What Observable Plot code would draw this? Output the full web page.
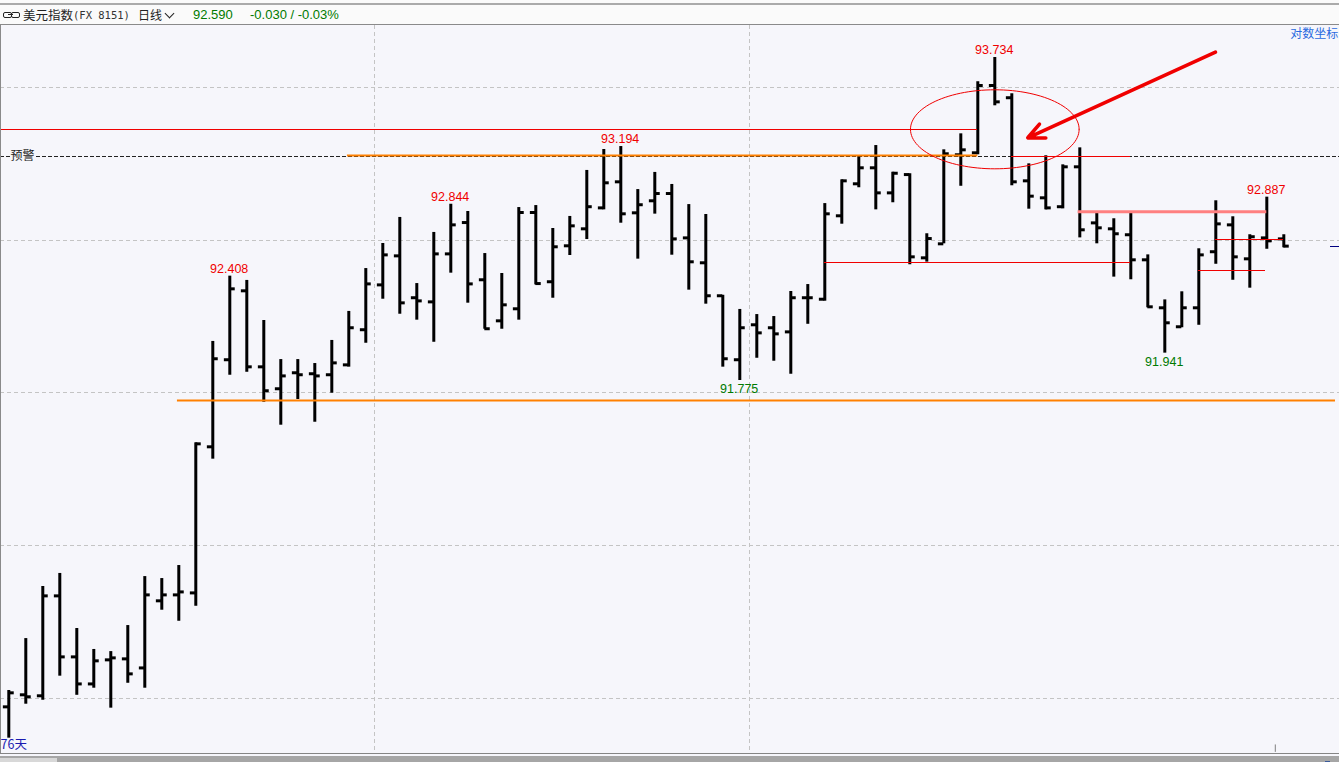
<!DOCTYPE html>
<html><head><meta charset="utf-8">
<script src="https://cdn.jsdelivr.net/npm/d3@7"></script>
<script src="https://cdn.jsdelivr.net/npm/@observablehq/plot@0.6"></script>
<style>
html,body{margin:0;padding:0;background:#f6f6fb;overflow:hidden}
body{width:1339px;height:762px;position:relative;font-family:"Liberation Sans",Arial,sans-serif}
#head{position:absolute;left:0;top:0;width:1339px;height:24px;background:#fafafa;border-bottom:1px solid #8a8a8a;box-sizing:content-box}
#head:before{content:"";position:absolute;left:0;top:3px;width:1339px;height:2px;background:#aaa}
#head span{position:absolute;top:7px;line-height:16px;white-space:nowrap;font-size:13px}
.cjk{font-family:"Noto Sans CJK SC",sans-serif;color:#222}
.mono{font-family:"DejaVu Sans Mono",monospace;font-size:10.5px!important;color:#333}
.g{color:#007a00}
#plot{position:absolute;left:0;top:25px;width:1339px;height:729px}
#plot svg{display:block;background:transparent}
#lborder{position:absolute;left:0;top:25px;width:1px;height:729px;background:#8a8a8a}
#bborder{position:absolute;left:0;top:753px;width:1339px;height:1px;background:#858585}
#sb{position:absolute;left:0;top:756px;width:1339px;height:6px;background:#a6a6a6}
#sb i{position:absolute;left:0;top:2px;width:57px;height:4px;background:#d8d8d8}
#sb b{position:absolute;left:1325px;top:5px;width:5px;height:1px;background:#3a5a9a}
</style></head><body>
<div id="head">
<span style="left:3px;top:12px;width:7px;height:4px;border:1px solid #222;border-radius:2px;box-sizing:content-box"></span>
<span style="left:11px;top:12px;width:7px;height:4px;border:1px solid #222;border-radius:2px;box-sizing:content-box"></span>
<span style="left:8px;top:14px;width:5px;height:1px;background:#222"></span>
<span class="cjk" style="left:23px;font-size:12.5px">美元指数</span>
<span class="mono" style="left:73px">(FX 8151)</span>
<span class="cjk" style="left:138px;font-size:12px">日线</span>
<span style="left:166px;top:10px;width:6px;height:6px;border-right:1.6px solid #222;border-bottom:1.6px solid #222;transform:rotate(45deg)"></span>
<span class="g" style="left:193px">92.590</span>
<span class="g" style="left:250px">-0.030 / -0.03%</span>
</div>
<div id="plot"></div>
<div id="lborder"></div><div id="bborder"></div>
<div id="sb"><i></i><b></b></div>
<script>
const open_ = [89.796,89.869,89.863,90.469,90.099,89.935,90.081,90.087,90.032,90.439,90.475,90.487,91.373,91.901,92.319,91.858,91.725,91.822,91.816,91.810,91.870,92.083,92.355,92.531,92.277,92.252,92.543,92.733,92.386,92.137,92.210,92.794,92.374,92.592,92.695,92.822,92.980,92.792,92.865,92.909,92.640,92.489,92.289,91.901,92.113,92.095,92.070,92.277,92.268,92.774,92.968,93.065,92.913,93.024,92.519,92.604,93.144,93.156,93.564,93.490,92.986,92.883,92.829,93.071,92.731,92.695,92.659,92.507,92.216,92.101,92.216,92.556,92.719,92.513,92.640,92.634];
const high = [89.895,90.210,90.526,90.605,90.271,90.144,90.131,90.289,90.586,90.574,90.653,91.397,92.012,92.408,92.382,92.139,91.902,91.902,91.878,92.018,92.194,92.454,92.606,92.764,92.363,92.673,92.844,92.800,92.545,92.424,92.824,92.836,92.697,92.770,93.049,93.176,93.194,92.933,93.037,92.964,92.842,92.782,92.292,92.206,92.175,92.163,92.315,92.357,92.848,92.992,93.134,93.200,93.038,93.029,92.665,93.174,93.271,93.587,93.734,93.514,93.089,93.138,93.083,93.186,92.788,92.756,92.788,92.537,92.264,92.313,92.574,92.865,92.768,92.659,92.887,92.659];
const low = [89.606,89.812,89.836,89.982,89.866,89.909,89.788,89.939,89.909,90.382,90.315,90.406,91.298,91.807,91.825,91.643,91.504,91.660,91.522,91.698,91.856,92.001,92.268,92.177,92.141,92.007,92.426,92.244,92.086,92.086,92.141,92.355,92.274,92.533,92.630,92.810,92.729,92.511,92.784,92.535,92.323,92.238,91.856,91.775,91.910,91.892,91.813,92.116,92.256,92.723,92.944,92.810,92.853,92.477,92.493,92.604,92.953,93.144,93.441,92.956,92.814,92.810,92.816,92.640,92.604,92.402,92.386,92.216,91.941,92.095,92.110,92.480,92.383,92.335,92.571,92.580];
const close_ = [89.881,89.857,90.469,90.099,89.935,90.075,90.093,89.996,90.475,90.475,90.493,91.391,91.907,92.331,91.858,91.713,91.803,91.810,91.803,91.882,92.095,92.361,92.537,92.246,92.258,92.543,92.719,92.361,92.089,92.234,92.794,92.363,92.586,92.713,92.829,92.974,92.786,92.841,92.909,92.634,92.495,92.289,91.907,92.095,92.064,92.058,92.277,92.277,92.786,92.986,93.065,92.913,93.032,92.525,92.636,93.150,93.174,93.564,93.465,92.980,92.893,92.822,93.071,92.689,92.701,92.665,92.507,92.222,92.125,92.216,92.537,92.725,92.525,92.647,92.622,92.590];

const gridPrices = [93.550,92.624,91.700,90.772,89.844];
const gridBars = [21.53,43.55];

const peakBars = [13,26,36,58,74];
const peakLabels = ["92.408","92.844","93.194","93.734","92.887"];
const peakPrices = [92.408,92.844,93.194,93.734,92.887];
const troughBars = [43,68];
const troughLabels = ["91.775","91.941"];
const troughPrices = [91.775,91.941];

const bars = open_.map((o,i)=>({i,o,h:high[i],l:low[i],c:close_[i]}));

const thinRed = [[-0.49,57,93.296],[48,66,92.489],[59,66,93.132],[70,73.95,92.440],[71,75,92.628]];
const orangeLines = [[19.92,57,93.140],[9.92,78.04,91.654]];
const pinkLine = [[62.9,74,92.798]];
const alertPrice = 93.133;
const lastPrice = 92.590;
const arrowFrom = {x:70.98,y:93.766};
const arrowTo = {x:59.94,y:93.247};
const ellipseC = {x:58,y:93.2985,rx:4.96,ry:0.2396};

const seg = a => a.map(([x1,x2,y])=>({x1,x2,y}));
const ellipse = d3.range(0,121).map(k=>{const t=k/120*2*Math.PI;return {x:ellipseC.x+ellipseC.rx*Math.cos(t),y:ellipseC.y+ellipseC.ry*Math.sin(t)}});

const FONT = "Liberation Sans, Arial, sans-serif";
const chart = Plot.plot({
  width:1339,height:729,margin:0,
  style:{background:"transparent",overflow:"visible"},
  x:{type:"linear",domain:[-0.488,78.276],range:[0,1339],axis:null},
  y:{type:"linear",domain:[89.507,93.928],range:[729,0],axis:null},
  marks:[
    Plot.ruleY(gridPrices,{y:d=>d,stroke:"#c4c4c4",strokeWidth:1,strokeDasharray:"4,3",shapeRendering:"crispEdges"}),
    Plot.ruleX(gridBars,{x:d=>d,stroke:"#c4c4c4",strokeWidth:1,strokeDasharray:"4,3",shapeRendering:"crispEdges"}),
    Plot.ruleY([alertPrice],{y:d=>d,stroke:"#222",strokeWidth:1,strokeDasharray:"4,2",shapeRendering:"crispEdges"}),
    Plot.ruleX(bars,{x:"i",y1:"l",y2:"h",stroke:"#000",strokeWidth:3}),
    Plot.ruleY(bars,{y:"o",x1:d=>d.i-0.32,x2:"i",stroke:"#000",strokeWidth:3}),
    Plot.ruleY(bars,{y:"c",x1:"i",x2:d=>d.i+0.32,stroke:"#000",strokeWidth:3}),
    Plot.ruleY(seg(orangeLines),{x1:"x1",x2:"x2",y:"y",stroke:"#ff8000",strokeWidth:2}),
    Plot.ruleY(seg(thinRed),{x1:"x1",x2:"x2",y:"y",stroke:"#f00000",strokeWidth:1,shapeRendering:"crispEdges"}),
    Plot.ruleY(seg(pinkLine),{x1:"x1",x2:"x2",y:"y",stroke:"#ff8080",strokeWidth:3}),
    Plot.ruleY([lastPrice],{x1:()=>77.72,x2:()=>78.276,y:d=>d,stroke:"#000080",strokeWidth:1,shapeRendering:"crispEdges"}),
    Plot.line(ellipse,{x:"x",y:"y",stroke:"#f00000",strokeWidth:1,curve:"linear"}),
    Plot.arrow([0],{x1:()=>arrowFrom.x,y1:()=>arrowFrom.y,x2:()=>arrowTo.x,y2:()=>arrowTo.y,stroke:"#f00000",strokeWidth:3.6,headLength:7.5,headAngle:50,bend:0}),
    Plot.text(peakLabels,{x:(d,i)=>peakBars[i],y:(d,i)=>peakPrices[i],text:d=>d,dy:-7.5,dx:-0.6,fill:"#f00000",fontSize:12.5,fontFamily:FONT}),
    Plot.text(troughLabels,{x:(d,i)=>troughBars[i],y:(d,i)=>troughPrices[i],text:d=>d,dy:8.5,dx:-0.6,fill:"#007a00",fontSize:12.5,fontFamily:FONT}),
    Plot.text(["预警"],{x:()=>0.8,y:()=>alertPrice,text:d=>d,fill:"#222",stroke:"#f6f6fb",strokeWidth:3,fontSize:12,fontFamily:"Noto Sans CJK SC"}),
    Plot.text(["76天"],{x:()=>-0.488,y:()=>89.565,text:d=>d,fill:"#1a1ab0",textAnchor:"start",fontSize:12.5,fontFamily:"Noto Sans CJK SC"}),
    Plot.text(["对数坐标"],{x:()=>78.2,y:()=>93.874,text:d=>d,fill:"#2a6ae0",textAnchor:"end",fontSize:12,fontFamily:"Noto Sans CJK SC"}),
    Plot.ruleX([74.5],{x:d=>d,y1:()=>89.565,y2:()=>89.52,stroke:"#808080",strokeWidth:1})
  ]
});
document.getElementById("plot").appendChild(chart);
</script>
</body></html>
